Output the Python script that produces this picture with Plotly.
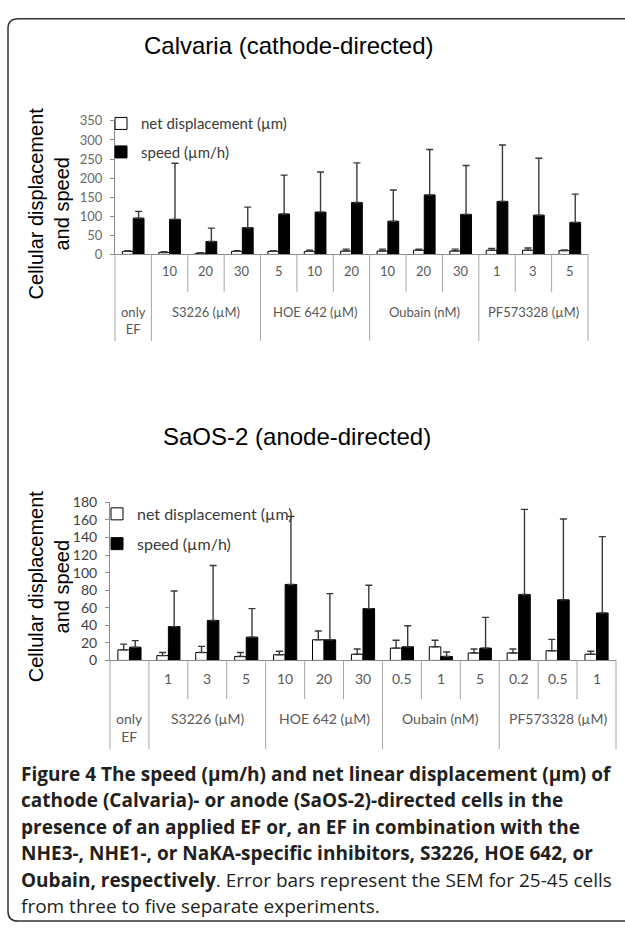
import plotly.graph_objects as go

W, H = 625, 933

# ---------------- data: Calvaria (cathode-directed) ----------------
top_title = "Calvaria (cathode-directed)"
top_groups = ["only<br>EF", "S3226 (µM)", "HOE 642 (µM)", "Oubain (nM)", "PF573328 (µM)"]
top_group_sizes = [1, 3, 3, 3, 3]
top_doses = ["", "10", "20", "30", "5", "10", "20", "10", "20", "30", "1", "3", "5"]
top_net = [8, 5, 3, 8, 8, 8, 9, 9, 11, 9, 11, 11, 10]
top_net_err = [2, 2, 1.5, 2, 2, 3, 5, 5, 3, 5, 5, 6, 2]
top_speed = [95, 92, 34, 70, 106, 111, 136, 87, 156, 105, 139, 103, 84]
top_speed_err = [18, 147, 35, 54, 102, 105, 104, 82, 119, 128, 148, 149, 74]
top_yticks = [0, 50, 100, 150, 200, 250, 300, 350]

# ---------------- data: SaOS-2 (anode-directed) ----------------
bot_title = "SaOS-2 (anode-directed)"
bot_groups = ["only<br>EF", "S3226 (µM)", "HOE 642 (µM)", "Oubain (nM)", "PF573328 (µM)"]
bot_group_sizes = [1, 3, 3, 3, 3]
bot_doses = ["", "1", "3", "5", "10", "20", "30", "0.5", "1", "5", "0.2", "0.5", "1"]
bot_net = [12, 5.5, 9, 4.5, 6.5, 23.5, 7, 14, 15.5, 8.5, 8.5, 11, 7]
bot_net_err = [6.5, 3.5, 7, 4.5, 4, 10, 6, 9, 7.5, 4.5, 4.5, 13, 3.5]
bot_speed = [15, 38.5, 45.5, 26.5, 86.5, 23.5, 59, 15.5, 4.5, 14, 75, 69, 54]
bot_speed_err = [7.5, 40.5, 62.5, 32.5, 77.5, 52.5, 26.5, 24, 5, 35, 97, 92, 87]
bot_yticks = [0, 20, 40, 60, 80, 100, 120, 140, 160, 180]

series_names = ["net displacement (µm)", "speed (µm/h)"]
y_title = "Cellular displacement<br>and speed"

caption_lines = [
    "<b>Figure 4 The speed (µm/h) and net linear displacement (µm) of</b>",
    "<b>cathode (Calvaria)- or anode (SaOS-2)-directed cells in the</b>",
    "<b>presence of an applied EF or, an EF in combination with the</b>",
    "<b>NHE3-, NHE1-, or NaKA-specific inhibitors, S3226, HOE 642, or</b>",
    "<b>Oubain, respectively</b>. Error bars represent the SEM for 25-45 cells",
    "from three to five separate experiments.",
]


def px(p):
    return p / W


def py(p):
    return 1 - p / H


TICK_FONT = "Lato, 'Open Sans', sans-serif"
ARIAL = "'Liberation Sans', Arial, sans-serif"

fig = go.Figure()
shapes = []
annotations = []

panels = [
    dict(xa="x", ya="y", leg="legend", title=top_title, groups=top_groups, sizes=top_group_sizes,
         doses=top_doses, net=top_net, net_err=top_net_err, speed=top_speed, speed_err=top_speed_err,
         yticks=top_yticks, x0=115, x1=588, y0=250, y1=114, title_x=288, title_y=37,
         ytitle_y=198, dose_y=267, group_y=298, subdiv_y=288, groupdiv_y=338,
         legend_x=101, legend_y=100, tick_size=13, lab_size=13, leg_size=15, tick_color="#6a6a6a"),
    dict(xa="x2", ya="y2", leg="legend2", title=bot_title, groups=bot_groups, sizes=bot_group_sizes,
         doses=bot_doses, net=bot_net, net_err=bot_net_err, speed=bot_speed, speed_err=bot_speed_err,
         yticks=bot_yticks, x0=110, x1=616, y0=663.5, y1=502.5, title_x=297, title_y=435,
         ytitle_y=588, dose_y=682, group_y=712, subdiv_y=703, groupdiv_y=754,
         legend_x=97, legend_y=497, tick_size=14, lab_size=14, leg_size=16, tick_color="#404040"),
]

for k, p in enumerate(panels):
    n = len(p["doses"])
    xs = list(range(n))
    for j, (vals, errs, fill) in enumerate([(p["net"], p["net_err"], "white"),
                                             (p["speed"], p["speed_err"], "black")]):
        fig.add_trace(go.Bar(
            x=xs, y=vals, name=series_names[j], xaxis=p["xa"], yaxis=p["ya"],
            legend=p["leg"], legendgroup=f"{k}-{j}",
            marker=dict(color=fill, line=dict(color="black", width=1)),
            error_y=dict(type="data", array=errs, arrayminus=[0] * n, symmetric=False,
                         color="#3a3a3a", thickness=1.4, width=3.5),
        ))

    xkey = "xaxis" if p["xa"] == "x" else "xaxis2"
    ykey = "yaxis" if p["ya"] == "y" else "yaxis2"
    fig.layout[xkey] = dict(
        domain=[px(p["x0"]), px(p["x1"])], range=[-0.5, n - 0.5], anchor=p["ya"],
        showticklabels=False, ticks="", showgrid=False, zeroline=False,
        showline=True, linecolor="#8c8c8c", linewidth=1, fixedrange=True,
    )
    fig.layout[ykey] = dict(
        domain=[py(p["y0"]), py(p["y1"])], range=[0, p["yticks"][-1]], anchor=p["xa"],
        tickvals=p["yticks"], ticks="outside", ticklen=4, tickcolor="#8c8c8c",
        showline=True, linecolor="#8c8c8c", linewidth=1, showgrid=False, zeroline=False,
        tickfont=dict(family=TICK_FONT, size=p["tick_size"], color=p["tick_color"]),
        ticklabelstandoff=5, fixedrange=True,
    )

    # legend
    fig.layout[p["leg"]] = dict(
        x=px(p["legend_x"]), y=py(p["legend_y"]), xanchor="left", yanchor="top",
        bgcolor="rgba(0,0,0,0)", borderwidth=0, tracegroupgap=6, itemwidth=30,
        font=dict(family=TICK_FONT, size=p["leg_size"], color="#3a3a3a"),
    )

    # chart title
    annotations.append(dict(text=p["title"], xref="paper", yref="paper", x=px(p["title_x"]),
                            y=py(p["title_y"]), showarrow=False, xanchor="center", yanchor="middle",
                            font=dict(family=ARIAL, size=24, color="black")))
    # y-axis title
    annotations.append(dict(text=y_title, xref="paper", yref="paper", x=px(49), y=py(p["ytitle_y"]),
                            showarrow=False, textangle=-90, xanchor="center", yanchor="middle",
                            align="center", font=dict(family=ARIAL, size=20, color="black")))

    xdom = p["xa"] + " domain"
    # dose labels
    for i, d in enumerate(p["doses"]):
        if d:
            annotations.append(dict(text=d, xref=p["xa"], yref="paper", x=i, y=py(p["dose_y"]),
                                    showarrow=False, xanchor="center", yanchor="middle",
                                    font=dict(family=TICK_FONT, size=p["lab_size"], color="#595959")))
    # group labels and dividers
    group_edges = [0]
    for s in p["sizes"]:
        group_edges.append(group_edges[-1] + s)
    for g, name in enumerate(p["groups"]):
        a, b = group_edges[g], group_edges[g + 1]
        annotations.append(dict(text=name, xref=p["xa"], yref="paper", x=(a + b - 1) / 2,
                                y=py(p["group_y"]), showarrow=False, xanchor="center", yanchor="top",
                                font=dict(family=TICK_FONT, size=p["lab_size"], color="#595959")))
    for bnd in range(n + 1):
        yend = p["groupdiv_y"] if bnd in group_edges else p["subdiv_y"]
        shapes.append(dict(type="line", xref=xdom, yref="paper", x0=bnd / n, x1=bnd / n,
                           y0=py(p["y0"]), y1=py(yend), line=dict(color="#a6a6a6", width=1)))

# caption
cap_y0, cap_dy = 779, 27
for i, line in enumerate(caption_lines):
    annotations.append(dict(text=line, xref="paper", yref="paper", x=px(19), y=py(cap_y0 + i * cap_dy),
                            showarrow=False, xanchor="left", yanchor="middle", align="left",
                            font=dict(family="'Open Sans', 'Noto Sans', sans-serif", size=19,
                                      color="#231f20")))

# rounded frame (open on the right side)
L, T, B, R, r = 8, 10, 929, 625, 10
path = (f"M {px(R)},{py(T)} L {px(L + r)},{py(T)} Q {px(L)},{py(T)} {px(L)},{py(T + r)} "
        f"L {px(L)},{py(B - r)} Q {px(L)},{py(B)} {px(L + r)},{py(B)} L {px(R)},{py(B)}")
shapes.append(dict(type="path", xref="paper", yref="paper", path=path,
                   line=dict(color="#333333", width=1.5)))

fig.update_layout(
    width=W, height=H, margin=dict(l=0, r=0, t=0, b=0),
    paper_bgcolor="white", plot_bgcolor="white",
    barmode="group", bargap=0.405, bargroupgap=0,
    shapes=shapes, annotations=annotations, showlegend=True,
)

fig.write_html("out.html", config={"displayModeBar": False},
               post_script="document.body.style.margin='0px';")
